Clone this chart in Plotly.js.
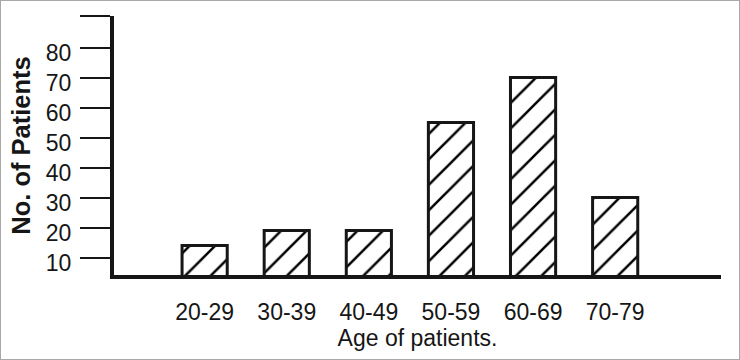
<!DOCTYPE html>
<html>
<head>
<meta charset="utf-8">
<script src="https://cdn.plot.ly/plotly-3.0.1.min.js"></script>
<style>
  html, body { margin: 0; padding: 0; background: #fff; }
  #wrap { position: relative; width: 740px; height: 360px; }
  #chart { width: 740px; height: 360px; }
  #frame { position: absolute; left: 0; top: 0; width: 740px; height: 360px; box-sizing: border-box; border: 1px solid #a8a8a8; pointer-events: none; }
</style>
</head>
<body>
<div id="wrap">
  <div id="chart"></div>
  <div id="frame"></div>
</div>
<script>
// Data
const ageGroups = ['20-29', '30-39', '40-49', '50-59', '60-69', '70-79'];
const patients = [14, 19, 19, 55, 70, 30];
const yTickVals = [10, 20, 30, 40, 50, 60, 70, 80, 90.4];
const yTickText = ['10', '20', '30', '40', '50', '60', '70', '80', ''];

const ink = '#161616';
const font = 'Liberation Sans, Arial, sans-serif';

const trace = {
  type: 'bar',
  x: ageGroups,
  y: patients,
  marker: {
    color: '#ffffff',
    line: { color: ink, width: 3 },
    pattern: { shape: '/', fgcolor: '#000000', fgopacity: 1, bgcolor: '#ffffff', size: 18, solidity: 0.14, fillmode: 'overlay' }
  },
  hoverinfo: 'x+y'
};

const layout = {
  width: 740,
  height: 360,
  margin: { l: 114, r: 19, t: 16, b: 85 },
  paper_bgcolor: '#ffffff',
  plot_bgcolor: '#ffffff',
  showlegend: false,
  bargap: 0.45,
  font: { family: font, color: ink },
  xaxis: {
    type: 'category',
    range: [-1.104, 6.289],
    showline: true, linecolor: ink, linewidth: 4,
    showgrid: false, zeroline: false,
    ticks: '',
    ticklabelstandoff: 13,
    tickfont: { size: 23, family: font, color: ink },
    title: { text: 'Age of patients.', font: { size: 23, family: font, color: ink }, standoff: 5 }
  },
  yaxis: {
    range: [4.2, 90.5],
    showline: true, linecolor: ink, linewidth: 4,
    showgrid: false, zeroline: false,
    tickmode: 'array', tickvals: yTickVals, ticktext: yTickText,
    ticks: 'outside', ticklen: 30, tickwidth: 2, tickcolor: ink,
    ticklabelshift: 5,
    ticklabelstandoff: 4,
    tickfont: { size: 23, family: font, color: ink },
    title: { text: '<b>No. of Patients</b>', font: { size: 25.5, family: font, color: ink }, standoff: 9 }
  }
};

Plotly.newPlot('chart', [trace], layout, { staticPlot: true, displayModeBar: false });
</script>
</body>
</html>
